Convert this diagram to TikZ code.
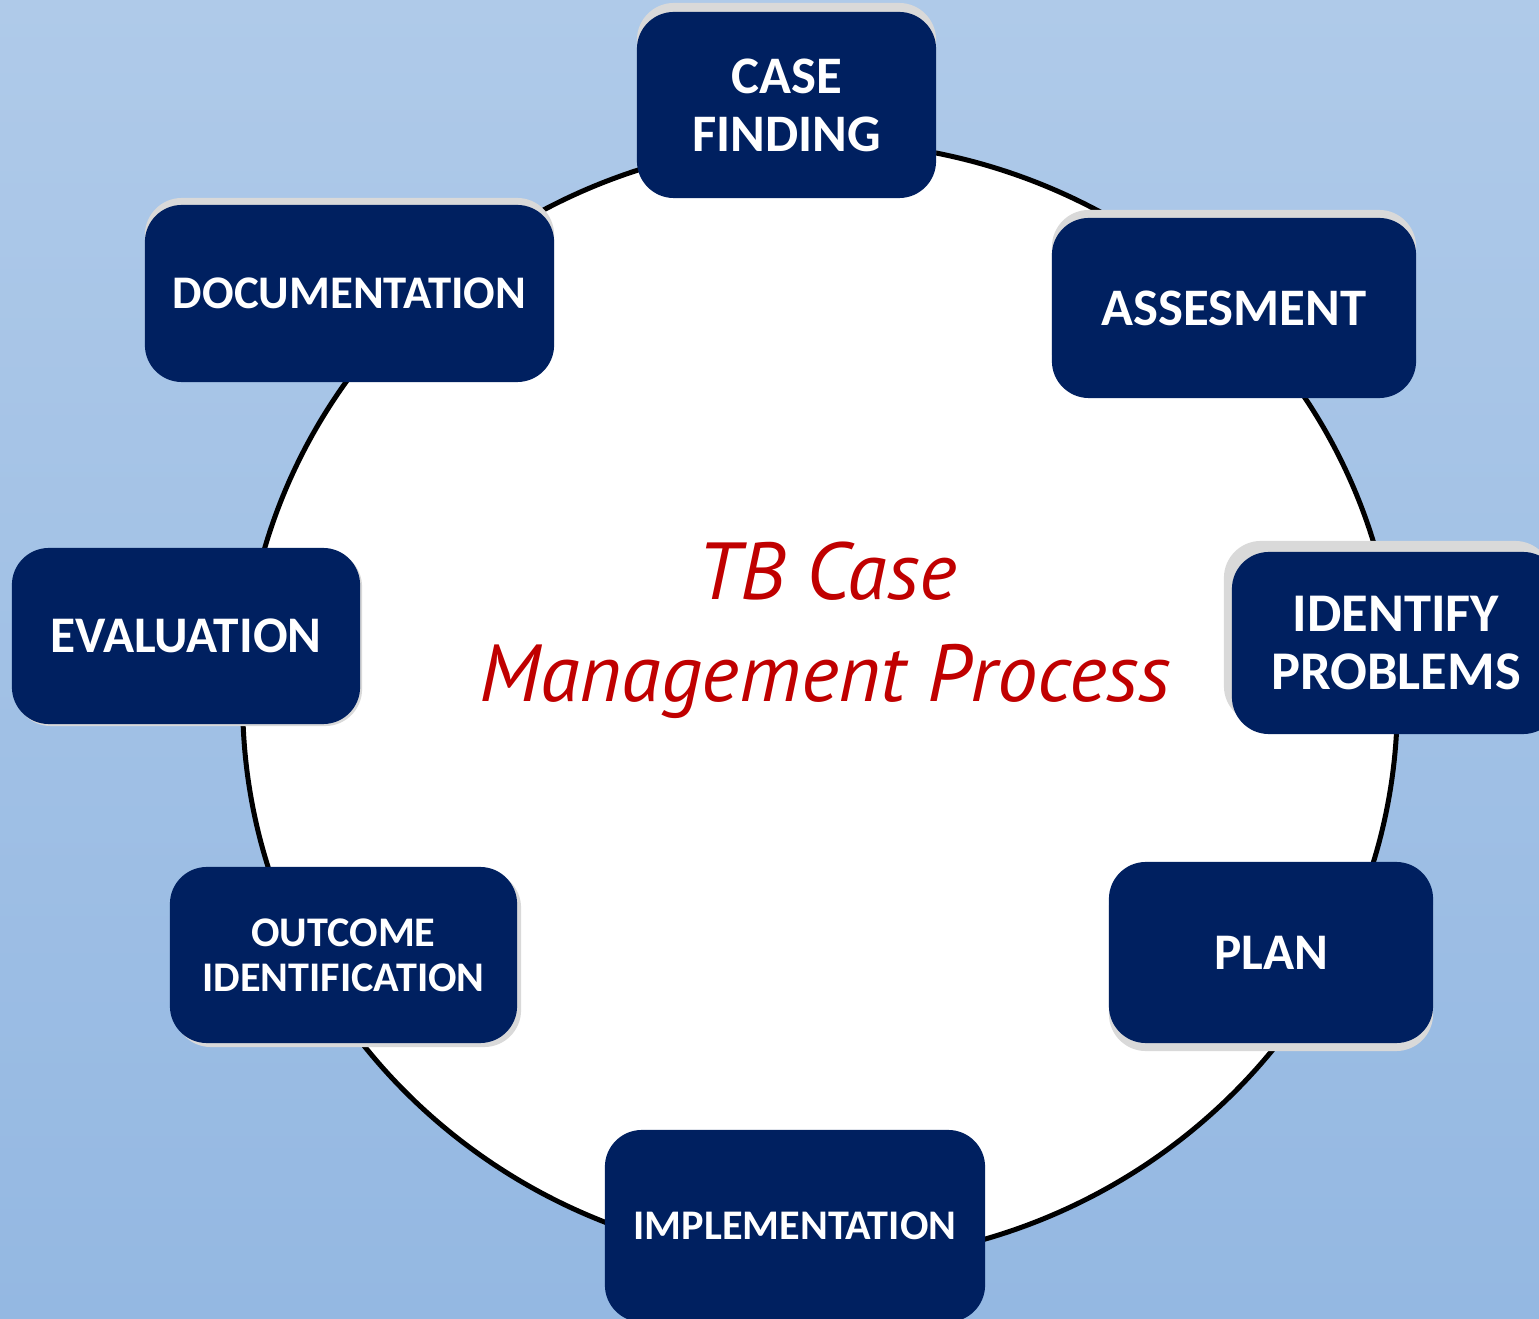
\documentclass[tikz,border=0pt]{standalone}
\usepackage{fontspec}
\setmainfont{Carlito}
\newfontfamily\titlefont{PT Sans}
\usetikzlibrary{shadows}
\definecolor{navy}{HTML}{002060}
\definecolor{bgtop}{HTML}{AFCAE9}
\definecolor{bgbot}{HTML}{94B8E2}
\definecolor{shgray}{HTML}{D9D9D9}
\definecolor{titlered}{HTML}{C00000}
\begin{document}
\begin{tikzpicture}[x=0.01cm,y=-0.01cm,
  stepbox/.style={fill=navy, rounded corners=0.37cm, text=white, align=center, inner sep=0pt},
  shd/.style 2 args={general shadow={fill=shgray, shadow xshift=#1, shadow yshift=#2}},
  titletext/.style={anchor=base, text=titlered, font=\titlefont\itshape\fontsize{23}{28}\selectfont, inner sep=0pt},
]
\useasboundingbox (0,0) rectangle (1539,1319);
\shade[top color=bgtop, bottom color=bgbot] (0,0) rectangle (1539,1319);
\draw[fill=white, line width=0.05cm] (820,702) ellipse [x radius=5.77cm, y radius=5.6cm];

\node[stepbox, minimum width=2.99cm, minimum height=1.86cm, shd={0cm}{0.09cm},
  font=\bfseries\fontsize{15}{16.5}\selectfont] (case) at (786.5,105) {CASE\\FINDING};
\node[stepbox, minimum width=3.64cm, minimum height=1.80cm, shd={0cm}{0.08cm},
  font=\bfseries\fontsize{15}{16.5}\selectfont] (assess) at (1234,308) {ASSESMENT};
\node[stepbox, minimum width=3.28cm, minimum height=1.82cm, shd={-0.08cm}{0.11cm},
  font=\bfseries\fontsize{15.5}{16.5}\selectfont] (ident) at (1396,643) {IDENTIFY\\PROBLEMS};
\node[stepbox, minimum width=3.24cm, minimum height=1.81cm, shd={0cm}{-0.08cm},
  font=\bfseries\fontsize{14.6}{16}\selectfont] (plan) at (1271,952.5) {PLAN};
\node[stepbox, minimum width=3.80cm, minimum height=1.92cm,
  font=\bfseries\fontsize{12}{13}\selectfont] (impl) at (795,1226) {IMPLEMENTATION};
\node[stepbox, minimum width=3.47cm, minimum height=1.76cm, shd={0.04cm}{-0.04cm},
  font=\bfseries\fontsize{12}{12.8}\selectfont] (outcome) at (343.5,955) {OUTCOME\\IDENTIFICATION};
\node[stepbox, minimum width=3.48cm, minimum height=1.76cm, shd={0.02cm}{-0.02cm},
  font=\bfseries\fontsize{14.6}{16}\selectfont] (eval) at (186,636) {EVALUATION};
\node[stepbox, minimum width=4.09cm, minimum height=1.77cm, shd={0cm}{0.07cm},
  font=\bfseries\fontsize{13.3}{15}\selectfont] (doc) at (349.5,293.5) {DOCUMENTATION};

\node[titletext] (title1) at (827,600) {TB Case};
\node[titletext] (title2) at (825,702) {Management Process};
\end{tikzpicture}
\end{document}
